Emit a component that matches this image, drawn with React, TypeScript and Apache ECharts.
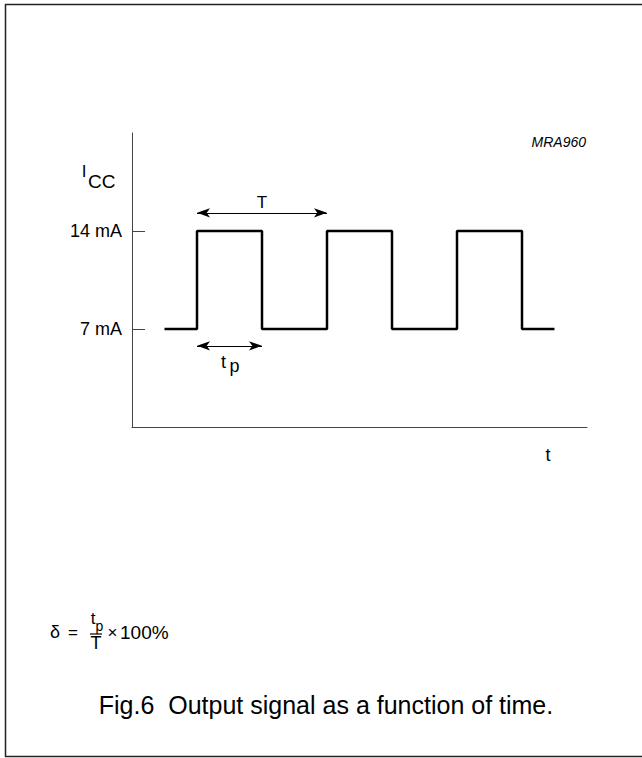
import React, { useEffect, useRef } from "react";
import * as echarts from "echarts";

// Square-wave output signal: edge times and current levels (mA)
const edgeTimes = [1, 2, 4, 6, 8, 10, 12, 13];
const currentLevels = [7, 14, 7, 14, 7, 14, 7, 7];
const tickValues = [7, 14];
const tickLabels = ["7 mA", "14 mA"];
const timeRange = [0, 14];
const currentRange = [0, 21];
// Annotation arrows: T (period) and tp (pulse width)
const periodSpan = [2, 6];
const periodLevel = 15.3;
const pulseSpan = [2, 4];
const pulseLevel = 5.8;

const FONT = "'Liberation Sans', Arial, Helvetica, sans-serif";

function txt(
  text: string,
  x: number,
  y: number,
  size: number,
  align: string = "center",
  extra: any = {}
) {
  return {
    type: "text",
    x,
    y,
    silent: true,
    style: {
      text,
      fontSize: size,
      fontFamily: FONT,
      fill: "#000",
      align,
      verticalAlign: "middle",
      textAlign: align,
      textVerticalAlign: "middle",
      ...extra,
    },
  };
}

export default function App() {
  const ref = useRef<HTMLDivElement>(null);
  useEffect(() => {
    const chart = echarts.init(ref.current!, null, { renderer: "svg" });
    const axisLineStyle = { color: "#444", width: 1 };
    chart.setOption({
      animation: false,
      backgroundColor: "#fff",
      grid: { left: 132, top: 133, width: 455, height: 294 },
      xAxis: {
        type: "value",
        min: timeRange[0],
        max: timeRange[1],
        axisLine: { show: true, onZero: false, lineStyle: axisLineStyle },
        axisTick: { show: false },
        axisLabel: { show: false },
        splitLine: { show: false },
      },
      yAxis: {
        type: "value",
        min: currentRange[0],
        max: currentRange[1],
        axisLine: { show: true, onZero: false, lineStyle: axisLineStyle },
        axisTick: {
          show: true,
          inside: true,
          length: 13,
          customValues: tickValues,
          lineStyle: axisLineStyle,
        },
        axisLabel: {
          show: true,
          customValues: tickValues,
          formatter: (v: number) => tickLabels[tickValues.indexOf(v)] ?? "",
          margin: 10,
          fontSize: 18,
          color: "#000",
          fontFamily: FONT,
        },
        splitLine: { show: false },
      },
      series: [
        {
          type: "line",
          step: "end",
          data: edgeTimes.map((t, i) => [t, currentLevels[i]]),
          symbol: "none",
          lineStyle: { color: "#000", width: 2.5 },
          markLine: {
            silent: true,
            symbol: ["arrow", "arrow"],
            symbolSize: [7, 13],
            label: { show: false },
            lineStyle: { color: "#000", width: 1, type: "solid" },
            data: [
              [
                { coord: [periodSpan[0], periodLevel] },
                { coord: [periodSpan[1], periodLevel] },
              ],
              [
                { coord: [pulseSpan[0], pulseLevel] },
                { coord: [pulseSpan[1], pulseLevel] },
              ],
            ],
          },
        },
      ],
    });

    const tMid = chart.convertToPixel({ gridIndex: 0 }, [
      (periodSpan[0] + periodSpan[1]) / 2,
      periodLevel,
    ]) as number[];
    const pMid = chart.convertToPixel({ gridIndex: 0 }, [
      (pulseSpan[0] + pulseSpan[1]) / 2,
      pulseLevel,
    ]) as number[];

    chart.setOption({
      graphic: [
        // frame
        { type: "line", silent: true, shape: { x1: 5, y1: 4.5, x2: 642, y2: 4.5 }, style: { stroke: "#222", lineWidth: 1.5 } },
        { type: "line", silent: true, shape: { x1: 5.5, y1: 4, x2: 5.5, y2: 757 }, style: { stroke: "#222", lineWidth: 1.5 } },
        { type: "line", silent: true, shape: { x1: 5, y1: 756.5, x2: 642, y2: 756.5 }, style: { stroke: "#222", lineWidth: 1.5 } },
        // axis names
        txt("I", 84, 171, 17),
        txt("CC", 88, 181, 19, "left"),
        txt("t", 548, 455, 18),
        txt("MRA960", 586, 142, 14, "right", { fontStyle: "italic" }),
        // arrow labels
        txt("T", tMid[0], tMid[1] - 10, 17),
        txt("t", pMid[0] - 6, pMid[1] + 16, 18),
        txt("p", pMid[0] + 5, pMid[1] + 20, 18),
        // formula
        txt("δ", 55, 632, 18),
        txt("=", 73, 632, 17),
        txt("t", 93, 618, 17),
        txt("p", 99.5, 626, 14),
        { type: "line", silent: true, shape: { x1: 90, y1: 634, x2: 102, y2: 634 }, style: { stroke: "#000", lineWidth: 1.2 } },
        txt("T", 96, 643, 18),
        txt("×", 112.5, 632, 17),
        txt("100%", 120, 632, 19, "left"),
        // caption
        txt("Fig.6  Output signal as a function of time.", 326, 705, 25),
      ],
    });

    return () => chart.dispose();
  }, []);
  return (
    <div
      ref={ref}
      style={{ position: "absolute", left: 0, top: 0, width: 642, height: 758 }}
    />
  );
}
